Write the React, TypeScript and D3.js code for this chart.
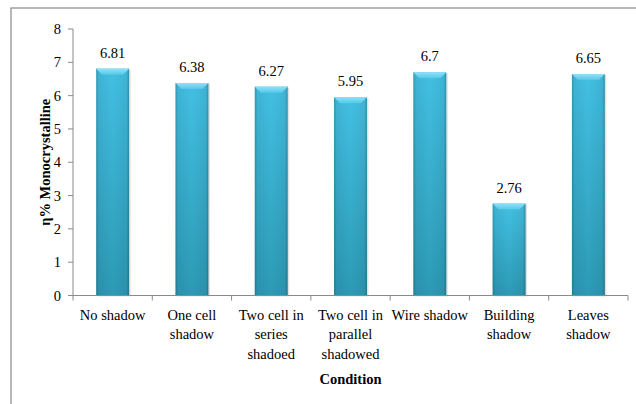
import React from "react";
import * as d3 from "d3";

const categories: string[][] = [
  ["No shadow"],
  ["One cell", "shadow"],
  ["Two cell in", "series", "shadoed"],
  ["Two cell in", "parallel", "shadowed"],
  ["Wire shadow"],
  ["Building", "shadow"],
  ["Leaves", "shadow"],
];
const values: number[] = [6.81, 6.38, 6.27, 5.95, 6.7, 2.76, 6.65];
const valueLabels: string[] = ["6.81", "6.38", "6.27", "5.95", "6.7", "2.76", "6.65"];
const yTicks: number[] = [0, 1, 2, 3, 4, 5, 6, 7, 8];
const yTitle = "η% Monocrystalline";
const xTitle = "Condition";

const W = 636;
const H = 404;
const left = 73;
const right = 628;
const top = 29;
const bottom = 295.5;
const txt: React.CSSProperties = { fontFamily: "Liberation Serif", fontSize: 14.5 };
const bold: React.CSSProperties = { fontFamily: "Liberation Serif", fontSize: 14.5, fontWeight: "bold" };

export default function App() {
  const ids = categories.map((_, i) => i);
  const x = d3
    .scaleBand<number>()
    .domain(ids)
    .range([left, right])
    .paddingInner(0.585)
    .paddingOuter(0.2925);
  const y = d3.scaleLinear().domain([0, 8]).range([bottom, top]);
  const step = (right - left) / categories.length;
  const bw = x.bandwidth();

  return (
    <svg
      width={W}
      height={H}
      style={{ position: "absolute", left: 0, top: 0, background: "#fff" }}
    >
      <defs>
        <linearGradient id="vg" x1="0" y1="0" x2="0" y2="1">
          <stop offset="0" stopColor="#43c0e3" />
          <stop offset="1" stopColor="#2c9ab6" />
        </linearGradient>
        <linearGradient id="hg" x1="0" y1="0" x2="1" y2="0">
          <stop offset="0" stopColor="#000" stopOpacity={0.22} />
          <stop offset="0.08" stopColor="#000" stopOpacity={0.06} />
          <stop offset="0.5" stopColor="#000" stopOpacity={0} />
          <stop offset="0.92" stopColor="#000" stopOpacity={0.06} />
          <stop offset="1" stopColor="#000" stopOpacity={0.25} />
        </linearGradient>
        <linearGradient id="bev" x1="0" y1="0" x2="0" y2="1">
          <stop offset="0" stopColor="#8fe2f7" />
          <stop offset="1" stopColor="#55c8e8" />
        </linearGradient>
      </defs>
      <rect x={11} y={8} width={700} height={500} fill="none" stroke="#8a8a8a" strokeWidth={1.2} />

      {/* y axis */}
      <line x1={left} x2={left} y1={top} y2={bottom} stroke="#8a8a8a" />
      {yTicks.map((t) => (
        <g key={t}>
          <line x1={left - 5} x2={left} y1={y(t)} y2={y(t)} stroke="#8a8a8a" />
          <text x={61} y={y(t)} dy="0.35em" textAnchor="end" style={txt} fill="#000">
            {t}
          </text>
        </g>
      ))}

      {/* bars */}
      {values.map((v, i) => {
        const bx = x(i)!;
        const by = y(v);
        const bh = bottom - by;
        const bev = 6;
        return (
          <g key={i}>
            <rect x={bx + 1.5} y={by + 1} width={bw} height={bh} fill="#000" opacity={0.12} />
            <rect x={bx} y={by} width={bw} height={bh} fill="url(#vg)" />
            <rect x={bx} y={by} width={bw} height={bh} fill="url(#hg)" />
            <path
              d={`M${bx},${by} L${bx + bw},${by} L${bx + bw - bev},${by + bev} L${bx + bev},${by + bev} Z`}
              fill="url(#bev)"
            />
            <text x={bx + bw / 2} y={by - 11} textAnchor="middle" style={txt} fill="#000">
              {valueLabels[i]}
            </text>
          </g>
        );
      })}

      {/* x axis */}
      <line x1={left} x2={right} y1={bottom} y2={bottom} stroke="#8a8a8a" />
      {d3.range(categories.length + 1).map((k) => (
        <line
          key={k}
          x1={left + k * step}
          x2={left + k * step}
          y1={bottom}
          y2={bottom + 5}
          stroke="#8a8a8a"
        />
      ))}
      {categories.map((lines, i) => (
        <text key={i} x={x(i)! + bw / 2} y={320} textAnchor="middle" style={txt} fill="#000">
          {lines.map((l, j) => (
            <tspan key={j} x={x(i)! + bw / 2} dy={j === 0 ? 0 : 19.3}>
              {l}
            </tspan>
          ))}
        </text>
      ))}

      <text x={(left + right) / 2} y={384} textAnchor="middle" style={bold} fill="#000">
        {xTitle}
      </text>
      <text
        transform={`translate(50,${(top + bottom) / 2}) rotate(-90)`}
        textAnchor="middle"
        style={bold}
        fill="#000"
      >
        {yTitle}
      </text>
    </svg>
  );
}
